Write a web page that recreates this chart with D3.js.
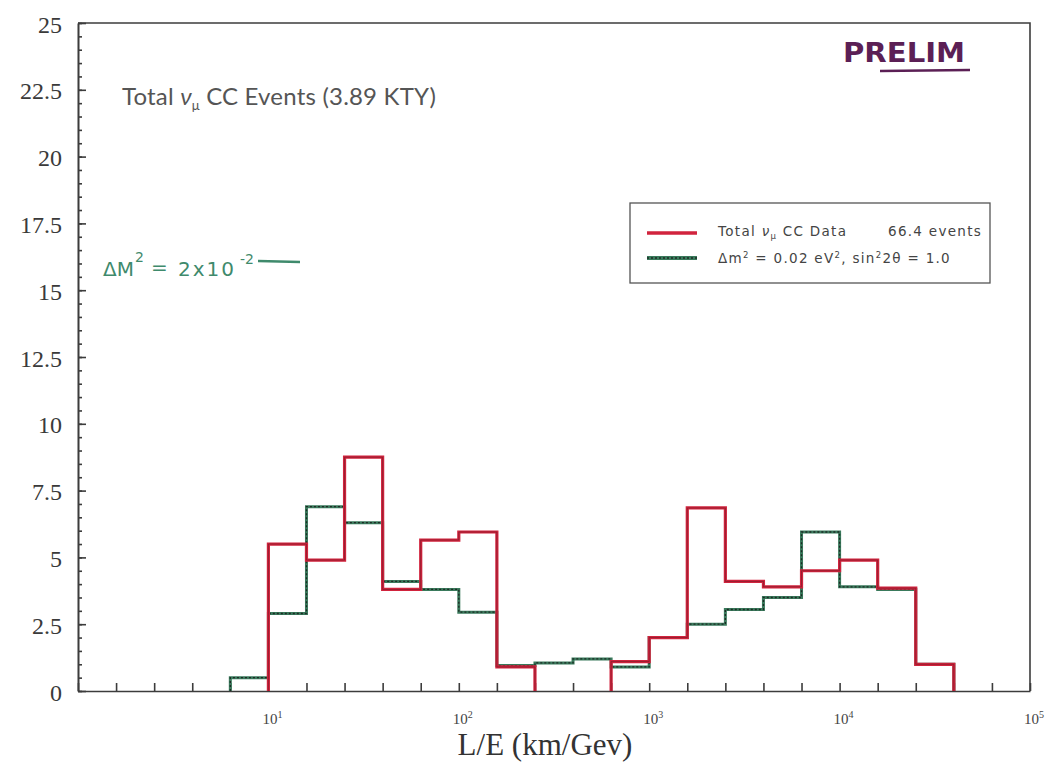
<!DOCTYPE html>
<html lang="en">
  <head>
    <meta charset="UTF-8" />
    <title>Total nu_mu CC Events</title>
    <script src="https://d3js.org/d3.v7.min.js"></script>
    <style>
      body {
        margin: 0;
        background-color: #fff;
      }
      svg {
        display: block;
      }
      .axis path,
      .axis line {
        stroke: #3c3c3c;
        stroke-width: 1.6;
      }
      .ylab {
        font-family: "Liberation Serif", "Times New Roman", serif;
        font-size: 24px;
        fill: #3a3a3a;
      }
      .xlab {
        font-family: "Liberation Serif", serif;
        font-size: 15px;
        fill: #444;
      }
    </style>
  </head>
  <body>
    <svg id="chart" width="1050" height="763"></svg>
    <script>
      // bin edges as powers of ten (5 bins per decade)
      const binEdgeExp = [0.8, 1.0, 1.2, 1.4, 1.6, 1.8, 2.0, 2.2, 2.4, 2.6, 2.8, 3.0, 3.2, 3.4, 3.6, 3.8, 4.0, 4.2, 4.4, 4.6];
      // measured data (red)
      const dataCounts = [0, 5.5, 4.9, 8.75, 3.8, 5.65, 5.95, 0.9, 0, 0, 1.1, 2.0, 6.85, 4.1, 3.9, 4.5, 4.9, 3.85, 1.0];
      // oscillation prediction dm2 = 0.02 (green)
      const oscCounts = [0.5, 2.9, 6.9, 6.3, 4.1, 3.8, 2.95, 0.95, 1.05, 1.2, 0.9, 2.0, 2.5, 3.05, 3.5, 5.95, 3.9, 3.8, 1.0];
      const yTickLabels = [0, 2.5, 5, 7.5, 10, 12.5, 15, 17.5, 20, 22.5, 25];
      const decadeExp = [1, 2, 3, 4, 5];

      const plotLeft = 78, plotRight = 1030, plotTop = 23, plotBottom = 691;

      const svg = d3.select("#chart");

      const x = d3.scaleLog().domain([1, 1e5]).range([plotLeft, plotRight]);
      const y = d3.scaleLinear().domain([0, 25]).range([plotBottom, plotTop]);

      // frame (top + right)
      svg.append("path")
        .attr("d", `M${plotLeft},${plotTop}H${plotRight}V${plotBottom}`)
        .attr("fill", "none")
        .attr("stroke", "#3c3c3c")
        .attr("stroke-width", 1.6);

      // y axis: minor ticks every 0.5, major every 2.5
      svg.append("g")
        .attr("class", "axis")
        .attr("transform", `translate(${plotLeft},0)`)
        .call(d3.axisLeft(y).ticks(50).tickSizeInner(-4).tickSizeOuter(0).tickFormat(""));
      const yAxis = svg.append("g")
        .attr("class", "axis")
        .attr("transform", `translate(${plotLeft},0)`)
        .call(d3.axisLeft(y).tickValues(yTickLabels).tickFormat(d3.format("~g"))
          .tickSizeInner(-8).tickSizeOuter(0).tickPadding(16));
      yAxis.attr("font-size", null).attr("font-family", null);
      yAxis.selectAll("text").attr("class", "ylab").attr("dy", "0.38em");

      // x axis: a tick at every bin edge
      const xTicks = d3.range(0, 26).map((k) => Math.pow(10, k * 0.2));
      svg.append("g")
        .attr("class", "axis")
        .attr("transform", `translate(0,${plotBottom})`)
        .call(d3.axisBottom(x).tickValues(xTicks).tickSizeInner(-8).tickSizeOuter(0).tickFormat(""));

      const xl = svg.append("g").selectAll("text").data(decadeExp).enter().append("text")
        .attr("class", "xlab")
        .attr("x", (d) => x(Math.pow(10, d)) - 6)
        .attr("y", 724);
      xl.append("tspan").text("10");
      xl.append("tspan").attr("dy", -6).attr("font-size", 10).text((d) => d);

      svg.append("text")
        .attr("x", 545)
        .attr("y", 755)
        .attr("text-anchor", "middle")
        .attr("font-family", "Liberation Serif, serif")
        .attr("font-size", 31)
        .attr("fill", "#333")
        .text("L/E (km/Gev)");

      // histogram step outlines, split into runs of non-empty bins
      function stepPath(counts) {
        let d = "";
        let open = false;
        counts.forEach((v, i) => {
          const x0 = x(Math.pow(10, binEdgeExp[i]));
          const x1 = x(Math.pow(10, binEdgeExp[i + 1]));
          if (v > 0) {
            if (!open) {
              d += `M${x0},${y(0)}`;
              open = true;
            }
            d += `L${x0},${y(v)}L${x1},${y(v)}`;
            const next = counts[i + 1];
            if (!(next > 0)) {
              d += `L${x1},${y(0)}`;
              open = false;
            }
          }
        });
        return d;
      }

      svg.append("path")
        .attr("d", stepPath(oscCounts))
        .attr("fill", "none")
        .attr("stroke", "#3a7a5c")
        .attr("stroke-width", 3);
      svg.append("path")
        .attr("d", stepPath(oscCounts))
        .attr("fill", "none")
        .attr("stroke", "#1d2b24")
        .attr("stroke-width", 1.3)
        .attr("stroke-dasharray", "2,2");

      svg.append("path")
        .attr("d", stepPath(dataCounts))
        .attr("fill", "none")
        .attr("stroke", "#d1233d")
        .attr("stroke-width", 3.2);
      svg.append("path")
        .attr("d", stepPath(dataCounts))
        .attr("fill", "none")
        .attr("stroke", "#5a1a22")
        .attr("stroke-width", 0.8)
        .attr("opacity", 0.6);

      // title
      const title = svg.append("text")
        .attr("x", 122)
        .attr("y", 105)
        .attr("font-family", "Lato, sans-serif")
        .attr("font-size", 24)
        .attr("letter-spacing", 0.2)
        .attr("fill", "#555");
      title.append("tspan").text("Total ");
      title.append("tspan").attr("font-style", "italic").text("ν");
      title.append("tspan").attr("font-size", 13).attr("dy", 5).text("μ");
      title.append("tspan").attr("dy", -5).text(" CC Events (3.89 KTY)");

      // legend
      const lg = svg.append("g");
      lg.append("rect")
        .attr("x", 630).attr("y", 203).attr("width", 360).attr("height", 80)
        .attr("fill", "#fff").attr("stroke", "#555").attr("stroke-width", 1.3);
      lg.append("line").attr("x1", 647).attr("x2", 697).attr("y1", 233).attr("y2", 233)
        .attr("stroke", "#d1233d").attr("stroke-width", 3.5);
      lg.append("line").attr("x1", 647).attr("x2", 697).attr("y1", 258).attr("y2", 258)
        .attr("stroke", "#3a7a5c").attr("stroke-width", 4);
      lg.append("line").attr("x1", 647).attr("x2", 697).attr("y1", 258).attr("y2", 258)
        .attr("stroke", "#1d2b24").attr("stroke-width", 1.3).attr("stroke-dasharray", "2,2");
      const legendFont = { family: "DejaVu Sans, sans-serif", size: 13.5, spacing: 1.3 };
      const l1 = lg.append("text").attr("x", 718).attr("y", 236)
        .attr("font-family", legendFont.family).attr("font-size", legendFont.size)
        .attr("letter-spacing", legendFont.spacing).attr("fill", "#444");
      l1.append("tspan").text("Total ");
      l1.append("tspan").attr("font-style", "italic").text("ν");
      l1.append("tspan").attr("font-size", 8.5).attr("dy", 3).text("μ");
      l1.append("tspan").attr("dy", -3).text(" CC Data");
      lg.append("text").attr("x", 888).attr("y", 236)
        .attr("font-family", legendFont.family).attr("font-size", legendFont.size)
        .attr("letter-spacing", legendFont.spacing).attr("fill", "#444")
        .text("66.4 events");
      const l2 = lg.append("text").attr("x", 718).attr("y", 263)
        .attr("font-family", legendFont.family).attr("font-size", legendFont.size)
        .attr("letter-spacing", legendFont.spacing).attr("fill", "#444");
      l2.append("tspan").text("Δm");
      l2.append("tspan").attr("font-size", 8.5).attr("dy", -5).text("2");
      l2.append("tspan").attr("dy", 5).text(" = 0.02 eV");
      l2.append("tspan").attr("font-size", 8.5).attr("dy", -5).text("2");
      l2.append("tspan").attr("dy", 5).text(", sin");
      l2.append("tspan").attr("font-size", 8.5).attr("dy", -5).text("2");
      l2.append("tspan").attr("dy", 5).text("2θ = 1.0");

      // handwritten notes
      const noteColor = "#3f8a6c";
      const note = svg.append("g")
        .attr("font-family", "DejaVu Sans, sans-serif")
        .attr("fill", noteColor);
      note.append("text").attr("x", 103).attr("y", 276).attr("font-size", 20).text("ΔM");
      note.append("text").attr("x", 135).attr("y", 262).attr("font-size", 14).text("2");
      note.append("text").attr("x", 151).attr("y", 274).attr("font-size", 20).text("=");
      note.append("text").attr("x", 178).attr("y", 276).attr("font-size", 20).attr("letter-spacing", 2).text("2x10");
      note.append("text").attr("x", 240).attr("y", 264).attr("font-size", 14).text("-2");
      svg.append("line").attr("x1", 258).attr("x2", 300).attr("y1", 261).attr("y2", 262)
        .attr("stroke", noteColor).attr("stroke-width", 2.4);

      svg.append("text")
        .attr("x", 843).attr("y", 62)
        .attr("font-family", "DejaVu Sans, sans-serif")
        .attr("font-weight", "bold")
        .attr("font-size", 26)
        .attr("textLength", 122)
        .attr("lengthAdjust", "spacingAndGlyphs")
        .attr("fill", "#5b1f55")
        .text("PRELIM");
      svg.append("line").attr("x1", 880).attr("x2", 970).attr("y1", 71).attr("y2", 70)
        .attr("stroke", "#5b1f55").attr("stroke-width", 2.5);
    </script>
  </body>
</html>
